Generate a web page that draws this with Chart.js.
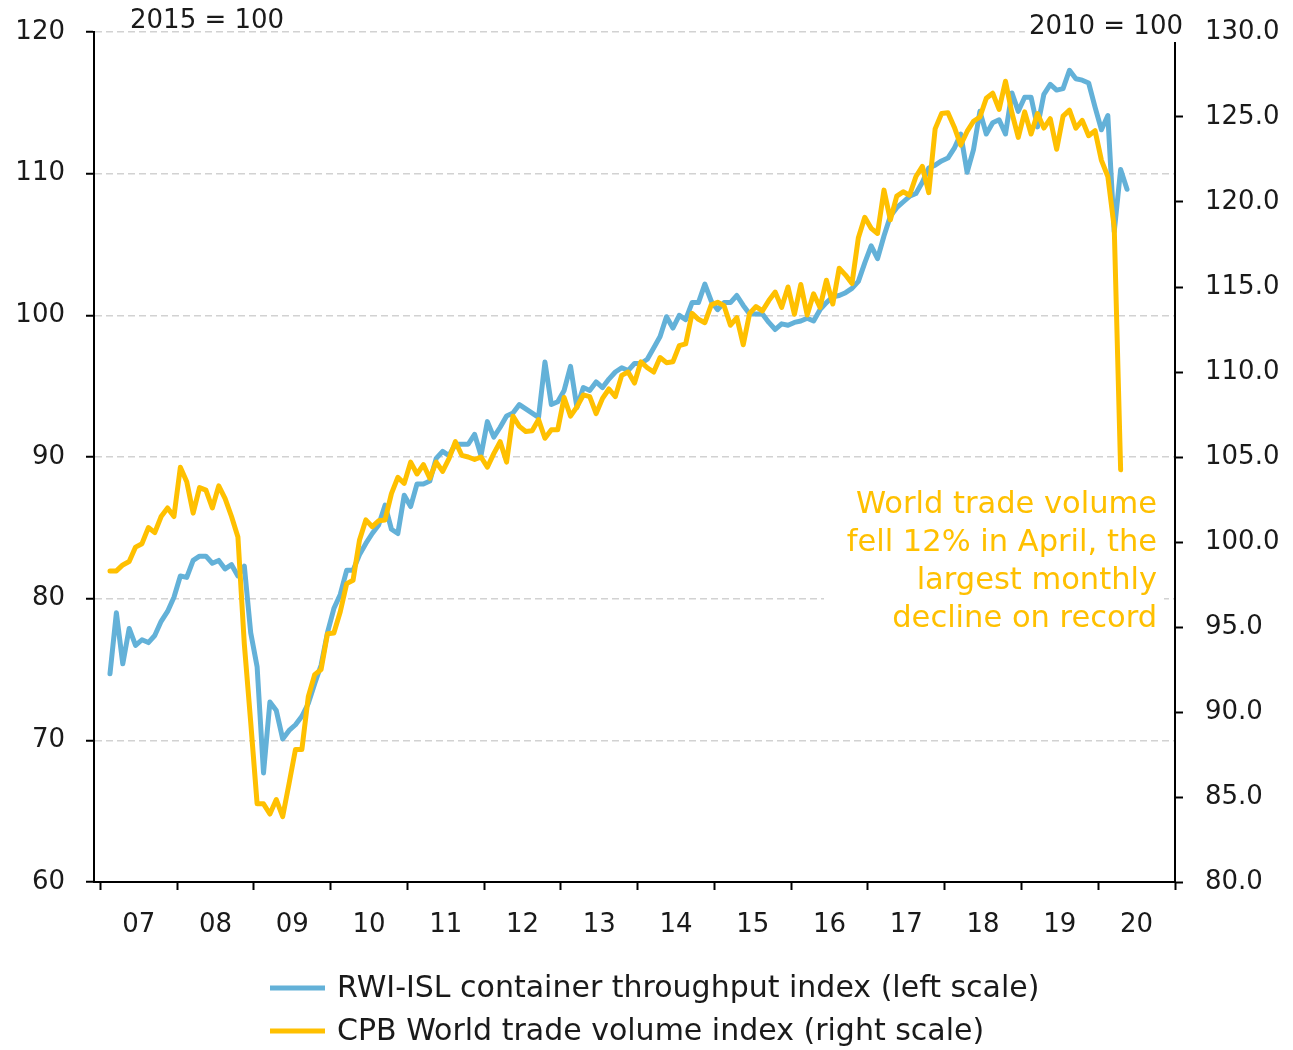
<!DOCTYPE html>
<html>
<head>
<meta charset="utf-8">
<script src="https://cdn.jsdelivr.net/npm/chart.js@4.4.1/dist/chart.umd.min.js"></script>
<style>
  html, body { margin: 0; padding: 0; background: #fff; }
</style>
</head>
<body>
<canvas id="chart" width="1293" height="1050"></canvas>
<script>
// months are counted from Jan 2007 (= 0); both series start in Feb 2007
const yearLabels = ['07', '08', '09', '10', '11', '12', '13', '14', '15', '16', '17', '18', '19', '20'];
const firstMonth = 1;

const seriesNames = [
  'RWI-ISL container throughput index (left scale)',
  'CPB World trade volume index (right scale)',
];

// RWI-ISL, 2015 = 100, Feb 2007 - May 2020
const containerIndex = [
  74.7, 79.0, 75.4, 77.9, 76.7, 77.1, 76.9, 77.4, 78.4, 79.1, 80.1,
  81.6, 81.5, 82.7, 83.0, 83.0, 82.5, 82.7, 82.1, 82.4, 81.6, 82.3, 77.6,
  75.2, 67.7, 72.7, 72.1, 70.1, 70.7, 71.1, 71.7, 72.6, 74.0, 75.3, 77.6,
  79.3, 80.3, 82.0, 82.0, 83.1, 83.9, 84.6, 85.2, 86.6, 84.9, 84.6, 87.3,
  86.5, 88.1, 88.1, 88.3, 89.9, 90.4, 90.1, 90.9, 90.9, 90.9, 91.6, 90.1,
  92.5, 91.4, 92.1, 92.9, 93.1, 93.7, 93.4, 93.1, 92.8, 96.7, 93.7, 93.9,
  94.7, 96.4, 93.5, 94.9, 94.7, 95.3, 94.9, 95.5, 96.0, 96.3, 96.1, 96.6,
  96.6, 96.9, 97.7, 98.5, 99.9, 99.1, 100.0, 99.7, 100.9, 100.9, 102.2, 101.0,
  100.4, 100.9, 100.9, 101.4, 100.7, 100.1, 100.1, 100.1, 99.5, 99.0, 99.4, 99.3,
  99.5, 99.6, 99.8, 99.6, 100.4, 100.9, 101.3, 101.4, 101.6, 101.9, 102.4, 103.7,
  104.9, 104.0, 105.6, 107.0, 107.6, 108.0, 108.4, 108.6, 109.4, 110.4, 110.6, 110.9,
  111.1, 111.8, 112.8, 110.1, 111.7, 114.4, 112.8, 113.6, 113.8, 112.8, 115.7, 114.4,
  115.4, 115.4, 113.3, 115.6, 116.3, 115.9, 116.0, 117.3, 116.7, 116.6, 116.4, 114.7,
  113.1, 114.1, 105.9, 110.3, 108.9,
];

// CPB, 2010 = 100, Feb 2007 - Apr 2020
const worldTrade = [
  98.3, 98.3, 98.65, 98.85, 99.7, 99.9, 100.85, 100.55, 101.5, 102.0, 101.5,
  104.4, 103.55, 101.7, 103.2, 103.05, 102.0, 103.3, 102.55, 101.5, 100.3, 94.0, 89.4,
  84.6, 84.6, 84.0, 84.85, 83.85, 85.8, 87.8, 87.8, 90.9, 92.2, 92.5, 94.6,
  94.65, 95.9, 97.55, 97.75, 100.1, 101.3, 100.9, 101.25, 101.3, 102.85, 103.8, 103.45,
  104.7, 104.0, 104.55, 103.75, 104.7, 104.15, 104.9, 105.9, 105.1, 105.0, 104.85, 105.0,
  104.4, 105.2, 105.9, 104.7, 107.4, 106.8, 106.5, 106.55, 107.2, 106.1, 106.6, 106.6,
  108.5, 107.4, 107.95, 108.65, 108.55, 107.55, 108.45, 109.0, 108.55, 109.8, 110.0, 109.35,
  110.6, 110.25, 110.0, 110.85, 110.55, 110.6, 111.55, 111.65, 113.45, 113.1, 112.9, 113.95,
  114.1, 113.9, 112.75, 113.2, 111.6, 113.45, 113.85, 113.6, 114.2, 114.7, 113.8, 115.0,
  113.4, 115.15, 113.35, 114.6, 113.8, 115.4, 114.0, 116.1, 115.7, 115.2, 117.9, 119.1,
  118.45, 118.15, 120.7, 118.95, 120.35, 120.6, 120.4, 121.5, 122.1, 120.55, 124.3, 125.2,
  125.25, 124.4, 123.35, 124.15, 124.75, 125.0, 126.1, 126.4, 125.45, 127.1, 125.25, 123.8,
  125.3, 124.0, 125.2, 124.35, 124.9, 123.1, 125.05, 125.4, 124.35, 124.8, 123.9, 124.2,
  122.45, 121.5, 118.5, 104.25,
];

const leftUnit = '2015 = 100';
const rightUnit = '2010 = 100';
const noteLines = ['World trade volume', 'fell 12% in April, the', 'largest monthly', 'decline on record'];

const BLUE = '#63b1d8';
const YELLOW = '#ffc000';
const INK = '#1a1a1a';
const FONT = '"DejaVu Sans", sans-serif';

const toPoints = (values) => values.map((v, k) => ({ x: firstMonth + k + 0.5, y: v }));

// keep the tick padding from pushing the plot area down
const fixedWidth = (w) => (scale) => {
  scale.width = w;
  scale.paddingTop = 0;
  scale.paddingBottom = 0;
};

// unit notes, the boxed comment and the legend
const extras = {
  id: 'extras',
  afterDraw(chart) {
    const ctx = chart.ctx;
    const area = chart.chartArea;
    ctx.save();
    ctx.textBaseline = 'middle';

    ctx.font = `26px ${FONT}`;
    ctx.fillStyle = INK;
    ctx.textAlign = 'left';
    ctx.fillText(leftUnit, 130, 21);

    const w = ctx.measureText(rightUnit).width;
    ctx.fillStyle = '#fff';
    ctx.fillRect(area.right + 8 - w - 4, 12, w + 8, 30);
    ctx.fillStyle = INK;
    ctx.textAlign = 'right';
    ctx.fillText(rightUnit, area.right + 8, 27);

    ctx.font = `30.5px ${FONT}`;
    ctx.fillStyle = '#fff';
    ctx.fillRect(824, 484, 340, 154);
    ctx.fillStyle = YELLOW;
    noteLines.forEach((line, k) => ctx.fillText(line, 1157, 505 + k * 38));

    ctx.font = `30px ${FONT}`;
    ctx.textAlign = 'left';
    chart.data.datasets.forEach((ds, k) => {
      const y = 988 + k * 43;
      ctx.strokeStyle = ds.borderColor;
      ctx.lineWidth = 5;
      ctx.beginPath();
      ctx.moveTo(270, y);
      ctx.lineTo(325, y);
      ctx.stroke();
      ctx.fillStyle = INK;
      ctx.fillText(ds.label, 337, y + 1);
    });
    ctx.restore();
  },
};

const tickFont = { family: FONT, size: 26 };

new Chart(document.getElementById('chart'), {
  type: 'line',
  data: {
    datasets: [
      {
        label: seriesNames[0],
        data: toPoints(containerIndex),
        yAxisID: 'y',
        borderColor: BLUE,
        backgroundColor: BLUE,
        borderWidth: 5,
        pointRadius: 0,
        borderJoinStyle: 'round',
        borderCapStyle: 'round',
        order: 2,
      },
      {
        label: seriesNames[1],
        data: toPoints(worldTrade),
        yAxisID: 'y2',
        borderColor: YELLOW,
        backgroundColor: YELLOW,
        borderWidth: 5,
        pointRadius: 0,
        borderJoinStyle: 'round',
        borderCapStyle: 'round',
        order: 1,
      },
    ],
  },
  options: {
    responsive: false,
    animation: false,
    devicePixelRatio: 1,
    layout: { padding: { top: 32, bottom: 98, left: 0, right: 0 } },
    plugins: {
      legend: { display: false },
      tooltip: { enabled: false },
    },
    scales: {
      x: {
        type: 'linear',
        min: -1,
        max: 168,
        weight: 0,
        afterBuildTicks: (scale) => {
          scale.ticks = [...yearLabels, ''].map((_, k) => ({ value: 12 * k }));
        },
        afterFit: (scale) => { scale.height = 10; },
        ticks: { display: false },
        grid: { drawOnChartArea: false, tickLength: 8, tickColor: '#000', tickWidth: 2 },
        border: { color: '#000', width: 2 },
      },
      x2: {
        type: 'linear',
        position: 'bottom',
        min: -1,
        max: 168,
        weight: 1,
        afterBuildTicks: (scale) => {
          scale.ticks = yearLabels.map((_, k) => ({ value: 6 + 12 * k }));
        },
        afterFit: (scale) => { scale.height = 60; },
        ticks: {
          font: tickFont,
          color: INK,
          padding: 10,
          maxRotation: 0,
          autoSkip: false,
          callback: (value, index) => yearLabels[index],
        },
        grid: { display: false },
        border: { display: false },
      },
      y: {
        position: 'left',
        min: 60,
        max: 120,
        ticks: { stepSize: 10, font: tickFont, color: INK, padding: 21 },
        afterFit: fixedWidth(94),
        grid: {
          color: (c) => (c.tick && c.tick.value === 60 ? 'rgba(0,0,0,0)' : '#d2d2d2'),
          lineWidth: 1.5,
          tickLength: 8,
          tickColor: '#000',
          tickWidth: 2,
        },
        border: { color: '#000', width: 2, dash: [7, 4] },
      },
      y2: {
        position: 'right',
        min: 80,
        max: 130,
        ticks: {
          stepSize: 5,
          font: tickFont,
          color: INK,
          padding: 22,
          callback: (v) => v.toFixed(1),
        },
        afterFit: fixedWidth(118),
        grid: { drawOnChartArea: false, tickLength: 8, tickColor: '#000', tickWidth: 2 },
        border: { color: '#000', width: 2 },
      },
    },
  },
  plugins: [extras],
});
</script>
</body>
</html>
